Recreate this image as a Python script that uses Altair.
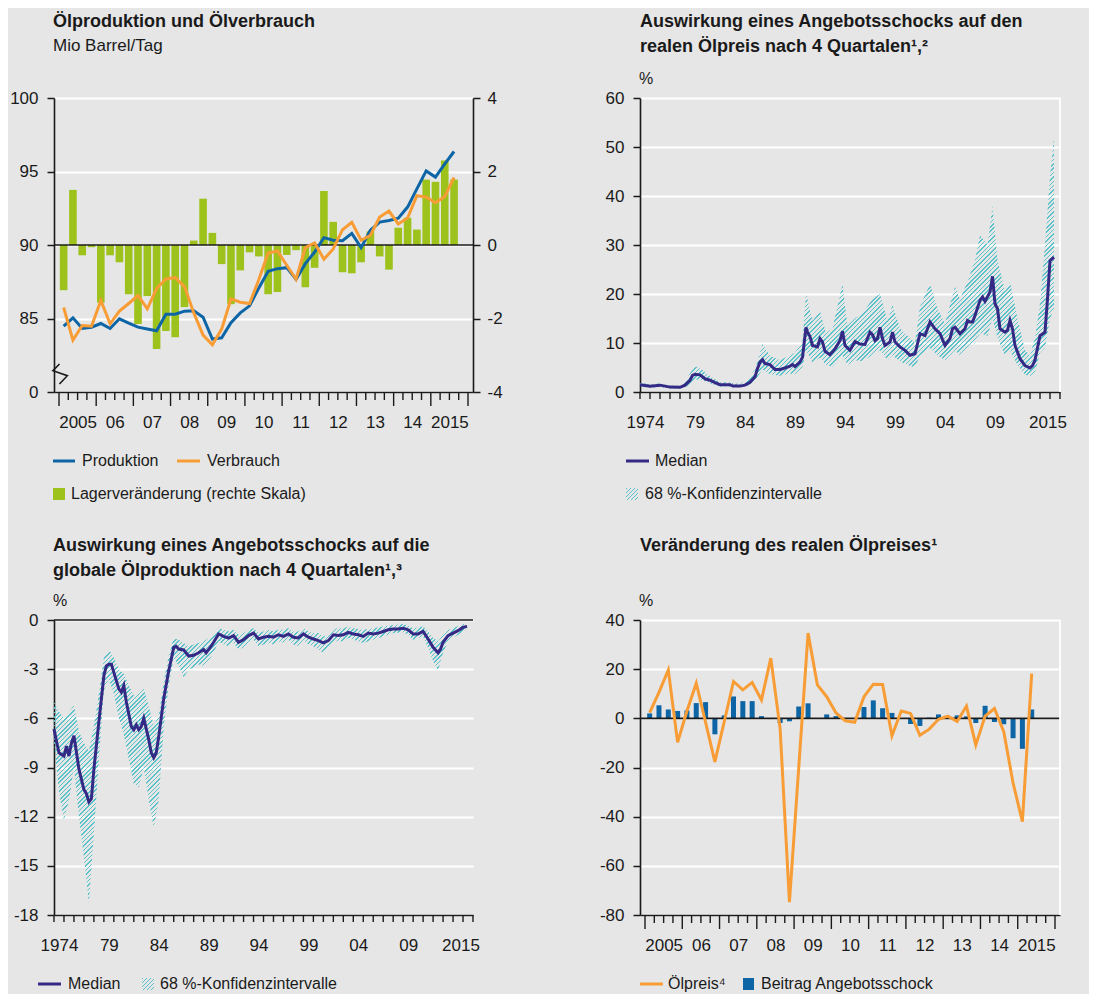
import altair as alt
import pandas as pd

FONT = "Liberation Sans"
BG = "#e6e6e6"
INK = "#1a1a1a"
GRID = "#ffffff"
BLUE = "#0d65a5"
ORANGE = "#f89c35"
GREEN = "#9cc21b"
PURPLE = "#342a86"
TEAL = "#5cc2c9"
TEAL0 = "rgba(92,194,201,0)"

# ---------------- Panel 1: Ölproduktion und Ölverbrauch (2005Q1 .. 2015Q3) ----------------
p1_prod = [84.48, 85.05, 84.32, 84.41, 84.66, 84.32, 84.98, 84.68, 84.41, 84.28,
           84.16, 85.29, 85.29, 85.50, 85.52, 85.09, 83.60, 83.69, 84.71, 85.38,
           85.86, 87.08, 88.21, 88.39, 88.46, 87.67, 88.73, 89.52, 90.50, 90.32,
           90.29, 90.79, 89.82, 91.00, 91.56, 91.67, 91.83, 92.58, 93.82, 95.04,
           94.62, 95.52, 96.36]
p1_cons = [85.75, 83.53, 84.52, 84.48, 86.22, 84.64, 85.50, 86.02, 86.56, 85.66,
           87.04, 87.69, 87.78, 87.17, 85.38, 83.87, 83.21, 84.28, 86.33, 86.11,
           86.02, 87.65, 89.46, 89.59, 88.62, 87.67, 89.82, 90.14, 89.03, 89.73,
           91.04, 91.54, 90.32, 90.66, 91.90, 92.31, 91.43, 91.83, 93.35, 93.26,
           92.87, 93.30, 94.59]
p1_stock = [-1.23, 1.50, -0.28, -0.06, -1.57, -0.28, -0.47, -1.34, -2.15, -1.39,
            -2.83, -2.34, -2.51, -1.69, 0.12, 1.26, 0.33, -0.52, -1.61, -0.69,
            -0.20, -0.31, -1.34, -1.28, -0.27, -0.14, -1.15, -0.62, 1.47, 0.63,
            -0.74, -0.77, -0.47, 0.37, -0.31, -0.67, 0.47, 0.74, 0.42, 1.78,
            1.72, 2.30, 1.78]
p1_t = [2005.125 + 0.25 * i for i in range(len(p1_prod))]

# axis break marker on the left scale (data units)
brk_t = [2005.013, 2004.837, 2005.224, 2005.013]
brk_v = [81.905, 81.449, 81.109, 80.544]

# ---------------- Panel 2: Ölpreis-Reaktion (Median + Band) ----------------
p2_med_t = [1974.0, 1975.0, 1976.0, 1977.0, 1978.0,
            1978.5, 1979.0, 1979.25, 1979.5, 1980.0,
            1980.5, 1981.0, 1981.5, 1982.0, 1983.0,
            1983.3, 1984.0, 1984.5, 1985.0, 1985.5,
            1985.75, 1986.0, 1986.25, 1986.5, 1987.0,
            1987.5, 1988.0, 1988.5, 1989.0, 1989.25,
            1989.5, 1990.0, 1990.25, 1990.6, 1990.75,
            1991.0, 1991.25, 1991.75, 1992.0, 1992.25,
            1992.5, 1993.0, 1993.5, 1994.0, 1994.25,
            1994.5, 1995.0, 1995.5, 1996.0, 1996.5,
            1997.0, 1997.25, 1997.5, 1997.75, 1998.0,
            1998.25, 1998.5, 1999.0, 1999.25, 1999.5,
            2000.0, 2000.5, 2001.0, 2001.5, 2002.0,
            2002.5, 2003.0, 2003.5, 2004.0, 2004.5,
            2005.0, 2005.25, 2005.5, 2006.0, 2006.5,
            2006.75, 2007.0, 2007.25, 2007.5, 2008.0,
            2008.25, 2008.5, 2009.0, 2009.25, 2009.5,
            2009.75, 2010.0, 2010.5, 2010.75, 2011.0,
            2011.25, 2011.5, 2012.0, 2012.5, 2013.0,
            2013.25, 2013.5, 2014.0, 2014.5, 2014.75,
            2015.0, 2015.4]
p2_med_v = [1.5, 1.2, 1.4, 1.0, 0.95,
            1.4, 2.4, 3.4, 3.6, 3.5,
            2.7, 2.4, 1.9, 1.5, 1.5,
            1.2, 1.2, 1.4, 2.0, 3.1,
            4.8, 6.1, 6.6, 5.8, 5.6,
            4.6, 4.6, 4.9, 5.3, 5.6,
            5.2, 6.1, 7.1, 13.2, 12.2,
            11.3, 9.5, 9.2, 10.9, 10.2,
            8.3, 7.6, 8.8, 10.5, 12.4,
            9.5, 8.5, 10.3, 9.8, 9.7,
            12.2, 11.7, 10.5, 10.9, 13.2,
            10.9, 9.5, 10.2, 12.2, 10.2,
            9.2, 8.5, 7.5, 7.8, 11.9,
            11.5, 14.3, 12.9, 11.9, 9.5,
            10.9, 12.9, 13.2, 11.9, 12.9,
            14.6, 14.3, 14.3, 15.6, 18.7,
            19.4, 18.5, 20.4, 23.6, 18.0,
            17.0, 12.9, 12.2, 12.6, 14.6,
            12.9, 9.5, 6.8, 5.4, 4.9,
            5.4, 6.5, 11.5, 12.2, 19.0,
            26.8, 27.5]
p2_band_t = [1974.0, 1975.0, 1976.0, 1977.0, 1978.0,
             1978.75, 1979.5, 1980.25, 1981.0, 1982.0,
             1983.0, 1984.0, 1984.75, 1985.5, 1986.25,
             1987.0, 1988.0, 1989.0, 1989.5, 1990.25,
             1990.6, 1991.25, 1992.0, 1992.6, 1993.25,
             1994.25, 1994.75, 1995.5, 1996.25, 1997.25,
             1998.0, 1998.75, 1999.25, 2000.0, 2000.75,
             2001.5, 2002.0, 2003.0, 2003.75, 2004.5,
             2005.5, 2006.0, 2006.75, 2007.5, 2008.0,
             2008.75, 2009.25, 2009.75, 2010.5, 2011.0,
             2011.75, 2012.5, 2013.0, 2013.5, 2014.0,
             2014.5, 2015.0, 2015.4]
p2_band_lo = [1.0, 0.9, 1.0, 0.7, 0.7,
              1.2, 2.6, 2.4, 1.8, 1.1,
              1.0, 0.9, 1.3, 2.3, 4.6,
              3.6, 3.3, 3.8, 3.6, 5.0,
              8.6, 6.0, 7.0, 5.5, 5.2,
              7.5, 5.5, 6.5, 6.3, 7.5,
              8.5, 6.5, 7.5, 6.2, 5.5,
              5.0, 7.5, 9.0, 7.5, 6.5,
              8.5, 7.5, 9.0, 10.0, 12.0,
              11.5, 15.0, 11.0, 7.5, 8.5,
              5.5, 3.5, 3.2, 4.0, 8.0,
              9.0, 15.0, 17.0]
p2_band_hi = [1.9, 1.6, 1.8, 1.3, 1.3,
              3.0, 5.3, 4.5, 3.2, 2.0,
              2.0, 1.6, 2.6, 4.6, 9.8,
              7.4, 6.5, 7.5, 8.0, 10.5,
              20.2, 14.5, 16.5, 12.0, 13.0,
              22.0, 13.5, 15.0, 16.0, 19.0,
              20.0, 14.5, 17.8, 13.0, 11.5,
              10.0, 17.5, 22.0, 17.0, 14.0,
              21.5, 19.0, 22.5, 27.0, 32.0,
              30.0, 38.0, 27.0, 20.5, 22.5,
              15.0, 8.5, 7.5, 11.0, 18.0,
              30.0, 44.0, 52.0]

# ---------------- Panel 3: Produktions-Reaktion (Median + Band) ----------------
p3_med_t = [1974.0, 1974.25, 1974.5, 1975.0, 1975.25,
            1975.5, 1975.75, 1976.0, 1976.5, 1977.0,
            1977.25, 1977.5, 1977.75, 1978.0, 1978.5,
            1979.0, 1979.25, 1979.5, 1979.75, 1980.0,
            1980.5, 1980.75, 1981.0, 1981.25, 1981.75,
            1982.0, 1982.25, 1982.5, 1982.75, 1983.0,
            1983.5, 1983.75, 1984.0, 1984.25, 1984.5,
            1985.0, 1985.5, 1985.75, 1986.0, 1986.25,
            1986.5, 1987.0, 1987.5, 1988.0, 1988.5,
            1989.0, 1989.25, 1989.75, 1990.0, 1990.5,
            1991.0, 1991.5, 1992.0, 1992.5, 1993.0,
            1993.5, 1994.0, 1994.5, 1995.0, 1995.5,
            1996.0, 1996.5, 1997.0, 1997.5, 1998.0,
            1998.5, 1999.0, 1999.5, 2000.0, 2000.5,
            2001.0, 2001.5, 2002.0, 2002.5, 2003.0,
            2003.5, 2004.0, 2004.5, 2005.0, 2005.5,
            2006.0, 2006.5, 2007.0, 2007.5, 2008.0,
            2008.5, 2009.0, 2009.5, 2010.0, 2010.5,
            2011.0, 2011.5, 2012.0, 2012.5, 2012.75,
            2013.0, 2013.5, 2014.0, 2014.5, 2015.0,
            2015.4]
p3_med_v = [-6.65, -7.4, -8.1, -8.3, -7.7,
            -8.3, -7.5, -7.06, -9.1, -10.35,
            -10.6, -11.1, -10.9, -9.1, -6.2,
            -3.4, -2.8, -2.7, -2.7, -3.2,
            -4.2, -4.4, -4.0, -5.0, -6.5,
            -6.7, -6.4, -6.7, -6.5, -6.0,
            -7.3, -8.1, -8.4, -8.1, -7.1,
            -4.8, -3.1, -2.4, -1.67, -1.6,
            -1.77, -1.83, -2.2, -2.15, -2.0,
            -1.8, -2.0, -1.6, -1.36, -0.85,
            -1.0, -1.1, -0.95, -1.36, -1.2,
            -0.95, -0.8, -1.16, -1.05, -1.0,
            -1.05, -0.9, -1.0, -0.85, -1.05,
            -1.1, -0.85, -1.05, -1.16, -1.26,
            -1.4, -1.26, -0.9, -0.95, -0.9,
            -0.75, -0.85, -0.9, -1.0, -0.8,
            -0.85, -0.8, -0.7, -0.6, -0.55,
            -0.55, -0.5, -0.6, -0.85, -0.85,
            -0.7, -1.16, -1.67, -2.0, -1.77,
            -1.36, -0.95, -0.8, -0.65, -0.45,
            -0.39]
p3_band_t = [1974.0, 1974.5, 1975.0, 1975.5, 1976.0,
             1976.5, 1977.0, 1977.5, 1978.0, 1978.5,
             1979.0, 1979.5, 1980.0, 1980.5, 1981.0,
             1981.5, 1982.0, 1982.5, 1983.0, 1983.5,
             1984.0, 1984.5, 1985.0, 1985.5, 1986.0,
             1986.5, 1987.0, 1987.5, 1988.0, 1988.5,
             1989.0, 1989.5, 1990.0, 1990.5, 1991.0,
             1991.5, 1992.0, 1992.5, 1993.0, 1993.5,
             1994.0, 1994.5, 1995.0, 1995.5, 1996.0,
             1996.5, 1997.0, 1997.5, 1998.0, 1998.5,
             1999.0, 1999.5, 2000.0, 2000.5, 2001.0,
             2001.5, 2002.0, 2003.0, 2003.5, 2004.0,
             2005.0, 2006.0, 2007.0, 2008.0, 2009.0,
             2009.5, 2010.0, 2011.0, 2011.5, 2012.0,
             2012.5, 2013.0, 2013.5, 2014.0, 2015.0,
             2015.4]
p3_band_lo = [-7.5, -10.5, -12.2, -11.0, -9.0,
              -12.0, -14.5, -17.3, -13.0, -8.5,
              -4.3, -3.6, -4.5, -6.0, -7.0,
              -8.5, -10.0, -10.2, -9.0, -11.0,
              -12.7, -11.0, -6.5, -4.0, -2.3,
              -2.8, -3.5, -3.0, -2.9, -2.7,
              -2.8, -2.5, -2.0, -1.3, -1.5,
              -1.6, -1.4, -1.8, -1.7, -1.4,
              -1.2, -1.6, -1.5, -1.4, -1.5,
              -1.3, -1.4, -1.2, -1.5, -1.6,
              -1.2, -1.5, -1.6, -1.8, -2.0,
              -1.7, -1.3, -1.3, -1.1, -1.2,
              -1.4, -1.2, -1.0, -0.8, -0.75,
              -0.9, -1.2, -1.0, -1.7, -2.5,
              -3.1, -2.0, -1.3, -1.1, -0.7,
              -0.55]
p3_band_hi = [-5.0, -5.6, -6.0, -5.6, -5.2,
              -6.8, -7.5, -8.0, -6.5, -4.5,
              -2.3, -1.8, -2.3, -3.0, -3.3,
              -4.0, -4.6, -4.5, -4.2, -5.3,
              -6.4, -5.8, -3.8, -2.2, -1.1,
              -1.2, -1.4, -1.6, -1.5, -1.4,
              -1.3, -1.1, -0.9, -0.45, -0.6,
              -0.7, -0.6, -0.9, -0.8, -0.6,
              -0.5, -0.8, -0.7, -0.6, -0.7,
              -0.6, -0.6, -0.5, -0.7, -0.7,
              -0.5, -0.7, -0.8, -0.8, -1.0,
              -0.9, -0.5, -0.5, -0.4, -0.5,
              -0.6, -0.5, -0.4, -0.3, -0.25,
              -0.35, -0.5, -0.4, -0.7, -1.1,
              -1.3, -0.9, -0.6, -0.5, -0.25,
              -0.25]

# ---------------- Panel 4: Veränderung des realen Ölpreises (2005Q1 .. 2015Q2) ----------------
p4_oil = [2.3, 10.6, 19.7, -9.8, 3.0, 14.3, -1.6, -17.7, -1.4, 15.0,
          11.6, 14.6, 7.5, 24.5, -4.1, -74.8, -20.0, 34.7, 13.6, 8.8,
          2.2, -1.0, -1.6, 8.8, 13.9, 13.8, -7.1, 3.0, 2.0, -6.9,
          -4.4, -0.4, 0.9, -1.3, 5.0, -10.8, 0.9, 4.0, -5.4, -26.3,
          -42.0, 18.2]
p4_shock = [2.0, 5.3, 3.6, 3.0, 3.2, 6.2, 6.6, -6.5, 1.2, 8.9,
            7.0, 7.0, 0.9, -0.3, -1.9, -1.2, 4.8, 6.1, -0.2, 1.6,
            0.9, -0.3, 0.0, 4.6, 7.3, 4.1, 2.2, 0.0, -2.3, -3.1,
            0.3, 1.6, 0.2, 1.2, 0.8, -1.9, 5.1, -1.5, -2.4, -8.1,
            -12.4, 3.6]
p4_t = [2005.125 + 0.25 * i for i in range(len(p4_oil))]

# ---------------- helpers ----------------
ONE = pd.DataFrame({"k": [0]})

LBL_Q = ("floor(datum.value) == 2005 || floor(datum.value) == 2015 ? '' + floor(datum.value)"
         " : substring('' + floor(datum.value), 2)")
LBL_Y = ("datum.value < 1975 || datum.value > 2014 ? '' + floor(datum.value + 0.3)"
         " : substring('' + floor(datum.value), 2)")


def xaxis(values, expr):
    return alt.Axis(values=values, labelExpr=expr, ticks=False, tickSize=0, labelPadding=22,
                    domain=True, domainColor=INK, domainWidth=1.6, grid=False, title=None,
                    labelFlush=False, labelOverlap=False, labelAngle=0)


def yaxis(orient, values, expr="'' + datum.value", grid=True, pad=9):
    return alt.Axis(orient=orient, values=values, labelExpr=expr, grid=grid, gridColor=GRID,
                    gridWidth=1.8, tickSize=7, tickColor=INK, tickWidth=1.5, domainColor=INK,
                    domainWidth=1.6, labelPadding=pad, title=None, labelOverlap=False)


def hatch(W, H, period=4.4, frac=0.36):
    s = W * (W + H) / (W * W + H * H) * 1.01
    span = s * (W * W + H * H) / W
    n = max(2, int(round(span / period)))
    stops = []
    for i in range(n):
        a, b, c = i / n, (i + frac) / n, (i + 1) / n
        stops += [alt.GradientStop(offset=a, color=TEAL), alt.GradientStop(offset=b, color=TEAL),
                  alt.GradientStop(offset=b, color=TEAL0), alt.GradientStop(offset=c, color=TEAL0)]
    return alt.LinearGradient(gradient="linear", stops=stops, x1=0, y1=0, x2=s, y2=s * H / W)


def text(s, x, y, size=16, bold=False):
    return alt.Chart(ONE).mark_text(text=s, x=x, y=y, align="left", baseline="alphabetic",
                                    fontSize=size, fontWeight="bold" if bold else "normal",
                                    font=FONT, color=INK)


def ltext(s, x, y):
    return alt.Chart(ONE).mark_text(text=s, x=x, y=y, align="left", baseline="middle",
                                    fontSize=16, font=FONT, color=INK)


def legend_line(x0, x1, y, color):
    return alt.Chart(ONE).mark_rule(color=color, strokeWidth=3).encode(
        x=alt.value(x0), x2=alt.value(x1), y=alt.value(y))


def legend_box(x0, x1, y0, y1, fill):
    return alt.Chart(ONE).mark_rect(color=fill).encode(
        x=alt.value(x0), x2=alt.value(x1), y=alt.value(y0), y2=alt.value(y1))


def xticks(vals, scale, axis, H, L):
    return alt.Chart(pd.DataFrame({"t": vals})).mark_rule(color=INK, strokeWidth=1.4).encode(
        x=alt.X("t:Q", scale=scale, axis=axis), y=alt.value(H), y2=alt.value(H + L))


def right_edge(W, H):
    return alt.Chart(ONE).mark_rule(color=GRID, strokeWidth=1.8).encode(
        x=alt.value(W), y=alt.value(0), y2=alt.value(H))


# ---------------- Panel 1 ----------------
W1, H1 = 419, 294
XS1 = alt.Scale(domain=[2005, 2016], nice=False, zero=False)
XA1 = xaxis([y + 0.5 for y in range(2005, 2016)], LBL_Q)
YL1 = alt.Scale(domain=[80, 100], nice=False, zero=False)
YAL1 = yaxis("left", [80, 85, 90, 95, 100], "datum.value == 80 ? '0' : '' + datum.value")
YR1 = alt.Scale(domain=[-4, 4], nice=False)
YAR1 = yaxis("right", [-4, -2, 0, 2, 4], grid=False, pad=7)

df1 = pd.DataFrame({"t": p1_t, "prod": p1_prod, "cons": p1_cons, "stock": p1_stock})
X1 = alt.X("t:Q", scale=XS1, axis=XA1)

bars1 = alt.Chart(df1).mark_bar(color=GREEN, size=7.6).encode(
    x=X1, y=alt.Y("stock:Q", scale=YR1, axis=YAR1))
zero1 = alt.Chart(ONE).mark_rule(color=INK, strokeWidth=1.6).encode(
    y=alt.Y(datum=0, scale=YR1, axis=YAR1))
gap1 = alt.Chart(pd.DataFrame({"t": [2004.96], "t2": [2005.05], "v": [brk_v[0]], "v2": [brk_v[-1]]})
                 ).mark_rect(color=BG).encode(
    x=X1, x2="t2:Q", y=alt.Y("v:Q", scale=YL1, axis=YAL1), y2="v2:Q")
brk1 = alt.Chart(pd.DataFrame({"t": brk_t, "v": brk_v, "o": list(range(len(brk_t)))})
                 ).mark_line(color=INK, strokeWidth=1.6).encode(
    x=X1, y=alt.Y("v:Q", scale=YL1, axis=YAL1), order="o:Q")
lprod = alt.Chart(df1).mark_line(color=BLUE, strokeWidth=3).encode(
    x=X1, y=alt.Y("prod:Q", scale=YL1, axis=YAL1))
lcons = alt.Chart(df1).mark_line(color=ORANGE, strokeWidth=3).encode(
    x=X1, y=alt.Y("cons:Q", scale=YL1, axis=YAL1))

qt = [y + q * 0.25 for y in range(2005, 2016) for q in (1, 2, 3)]
yt = list(range(2005, 2017))

p1 = alt.layer(
    alt.layer(bars1, zero1),
    alt.layer(gap1, brk1, lprod, lcons),
    xticks(qt, XS1, XA1, H1, 8),
    xticks(yt, XS1, XA1, H1, 14),
    text("Ölproduktion und Ölverbrauch", -1, -71, 18, True),
    text("Mio Barrel/Tag", -1, -47.5, 17),
    legend_line(-1, 21, 363, BLUE), ltext("Produktion", 28, 363),
    legend_line(123, 146, 363, ORANGE), ltext("Verbrauch", 153, 363),
    legend_box(-1, 11, 390, 402, GREEN), ltext("Lagerveränderung (rechte Skala)", 17, 396),
).resolve_scale(y="independent").properties(width=W1, height=H1)

# ---------------- Panel 2 ----------------
W2, H2 = 420, 294
XS2 = alt.Scale(domain=[1974, 2016], nice=False, zero=False)
YLAB = [1974.5, 1979.5, 1984.5, 1989.5, 1994.5, 1999.5, 2004.5, 2009.5, 2014.75]
XA2 = xaxis(YLAB, LBL_Y)
YS2 = alt.Scale(domain=[0, 60], nice=False)
YA2 = yaxis("left", [0, 10, 20, 30, 40, 50, 60])
X2 = alt.X("t:Q", scale=XS2, axis=XA2)

bw2 = (max(p2_band_t) - min(p2_band_t)) / 42 * W2
bh2 = (max(p2_band_hi) - min(p2_band_lo)) / 60 * H2
band2 = alt.Chart(pd.DataFrame({"t": p2_band_t, "lo": p2_band_lo, "hi": p2_band_hi})
                  ).mark_area(color=hatch(bw2, bh2)).encode(
    x=X2, y=alt.Y("lo:Q", scale=YS2, axis=YA2), y2="hi:Q")
med2 = alt.Chart(pd.DataFrame({"t": p2_med_t, "v": p2_med_v})).mark_line(
    color=PURPLE, strokeWidth=3).encode(x=X2, y=alt.Y("v:Q", scale=YS2, axis=YA2))

ann = list(range(1974, 2017))

p2 = alt.layer(
    band2, med2,
    right_edge(W2, H2),
    xticks(ann, XS2, XA2, H2, 7),
    text("Auswirkung eines Angebotsschocks auf den", 0, -70.7, 18, True),
    text("realen Ölpreis nach 4 Quartalen¹,²", 0, -45.7, 18, True),
    text("%", -1, -14, 16),
    legend_line(-14, 9, 363, PURPLE), ltext("Median", 15, 363),
    legend_box(-14, -2, 390, 402, hatch(12, 12, 4.4, 0.36)), ltext("68 %-Konfidenzintervalle", 5, 396),
).properties(width=W2, height=H2)

# ---------------- Panel 3 ----------------
W3, H3 = 419, 295
XS3 = alt.Scale(domain=[1974, 2016], nice=False, zero=False)
XA3 = xaxis(YLAB, LBL_Y)
YS3 = alt.Scale(domain=[-18, 0], nice=False)
YA3 = yaxis("left", [-18, -15, -12, -9, -6, -3, 0])
X3 = alt.X("t:Q", scale=XS3, axis=XA3)

bw3 = (max(p3_band_t) - min(p3_band_t)) / 42 * W3
bh3 = (max(p3_band_hi) - min(p3_band_lo)) / 18 * H3
band3 = alt.Chart(pd.DataFrame({"t": p3_band_t, "lo": p3_band_lo, "hi": p3_band_hi})
                  ).mark_area(color=hatch(bw3, bh3)).encode(
    x=X3, y=alt.Y("lo:Q", scale=YS3, axis=YA3), y2="hi:Q")
med3 = alt.Chart(pd.DataFrame({"t": p3_med_t, "v": p3_med_v})).mark_line(
    color=PURPLE, strokeWidth=3).encode(x=X3, y=alt.Y("v:Q", scale=YS3, axis=YA3))
zero3 = alt.Chart(ONE).mark_rule(color=INK, strokeWidth=1.6).encode(
    y=alt.Y(datum=0, scale=YS3, axis=YA3))

p3 = alt.layer(
    zero3, band3, med3,
    xticks(ann, XS3, XA3, H3, 7),
    text("Auswirkung eines Angebotsschocks auf die", -1, -69.3, 18, True),
    text("globale Ölproduktion nach 4 Quartalen¹,³", -1, -44.3, 18, True),
    text("%", -1, -13.7, 16),
    legend_line(-16, 7, 364, PURPLE), ltext("Median", 14, 364),
    legend_box(88, 100, 358, 370, hatch(12, 12, 4.4, 0.36)), ltext("68 %-Konfidenzintervalle", 106, 364),
).properties(width=W3, height=H3)

# ---------------- Panel 4 ----------------
W4, H4 = 420, 295
XS4 = alt.Scale(domain=[2005, 2016], nice=False, zero=False)
XA4 = xaxis([y + 0.5 for y in range(2005, 2016)], LBL_Q)
YS4 = alt.Scale(domain=[-80, 40], nice=False)
YA4 = yaxis("left", [-80, -60, -40, -20, 0, 20, 40])
X4 = alt.X("t:Q", scale=XS4, axis=XA4)
df4 = pd.DataFrame({"t": p4_t, "oil": p4_oil, "shock": p4_shock})

bars4 = alt.Chart(df4).mark_bar(color=BLUE, size=5).encode(
    x=X4, y=alt.Y("shock:Q", scale=YS4, axis=YA4))
zero4 = alt.Chart(ONE).mark_rule(color=INK, strokeWidth=1.6).encode(
    y=alt.Y(datum=0, scale=YS4, axis=YA4))
line4 = alt.Chart(df4).mark_line(color=ORANGE, strokeWidth=3).encode(
    x=X4, y=alt.Y("oil:Q", scale=YS4, axis=YA4))

p4 = alt.layer(
    bars4, zero4, line4,
    right_edge(W4, H4),
    xticks(qt, XS4, XA4, H4, 8),
    xticks(yt, XS4, XA4, H4, 14),
    text("Veränderung des realen Ölpreises¹", 0, -69.3, 18, True),
    text("%", -1, -14, 16),
    legend_line(0, 23, 364, ORANGE), ltext("Ölpreis⁴", 28, 364),
    legend_box(103, 114, 358, 370, BLUE), ltext("Beitrag Angebotsschock", 121, 364),
).properties(width=W4, height=H4)

chart = alt.concat(
    p1, p2, p3, p4, columns=2, spacing={"row": 228, "column": 167}, bounds="flush"
).properties(
    background=BG, padding={"left": 1, "top": 5, "right": 22, "bottom": 2}
).configure_view(
    fill=BG, strokeWidth=0
).configure_axis(
    labelFont=FONT, labelFontSize=17, labelColor=INK
)

chart.save("out.html", embed_options={"renderer": "svg", "actions": False})
